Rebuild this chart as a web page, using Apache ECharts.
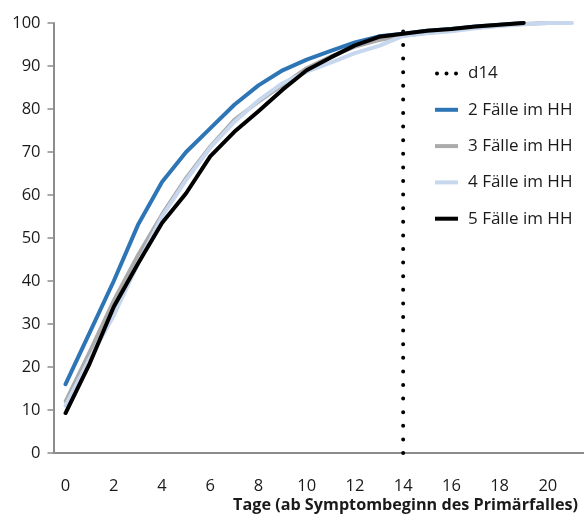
<!DOCTYPE html>
<html>
<head>
<meta charset="utf-8">
<script src="https://cdn.jsdelivr.net/npm/echarts@6/dist/echarts.min.js"></script>
<style>html,body{margin:0;padding:0;background:#fff;}#c{width:584px;height:525px;}</style>
</head>
<body>
<div id="c"></div>
<script>
var days = ['0','1','2','3','4','5','6','7','8','9','10','11','12','13','14','15','16','17','18','19','20','21'];
var yTicks = [0,10,20,30,40,50,60,70,80,90,100];
var seriesNames = ['d14','2 Fälle im HH','3 Fälle im HH','4 Fälle im HH','5 Fälle im HH'];
var markerDay = '14';
var markerRange = [0, 100];
var cases2 = [16, 28, 40, 53, 63, 70, 75.5, 81, 85.5, 89, 91.5, 93.5, 95.5, 96.9, 97.5, 98.2, 98.6, 99.2, 99.6, 100];
var cases3 = [12, 23.5, 35.5, 46, 55.5, 64, 71.3, 77.5, 81.7, 85.6, 89.5, 92.2, 94.5, 96, 97, 97.7, 98.3, 98.9, 99.4, 99.8, 100];
var cases4 = [11, 22, 32, 44, 55, 63.5, 71, 77, 82, 86, 88.7, 90.8, 93, 94.7, 97, 97.6, 98.1, 98.8, 99.3, 99.7, 100, 100];
var cases5 = [9.3, 20.8, 34, 44, 53.5, 60.4, 69, 74.7, 79.5, 84.5, 89, 92, 94.8, 96.8, 97.5, 98.2, 98.6, 99.2, 99.6, 100];

var FONT = 'Open Sans';
var LINE_ICON = 'path://M0,0h23v4h-23z';
var chart = echarts.init(document.getElementById('c'), null, {renderer: 'canvas'});
chart.setOption({
  animation: false,
  textStyle: {fontFamily: FONT},
  title: {
    text: 'Tage (ab Symptombeginn des Primärfalles)',
    right: 1, top: 492,
    textStyle: {fontFamily: FONT, fontSize: 16.2, fontWeight: 'bold', color: '#1a1a1a'}
  },
  grid: {left: 53.5, right: 0, top: 23, bottom: 72, containLabel: false},
  legend: {
    orient: 'vertical', left: 430, top: 60,
    itemWidth: 23, itemHeight: 16, itemGap: 19.3,
    textStyle: {fontFamily: FONT, fontSize: 17, color: '#1a1a1a', padding: [0,0,0,5]},
    data: [
      {name: seriesNames[0], icon: 'path://M2,7a2,2 0 1,0 4,0a2,2 0 1,0 -4,0zM11.5,7a2,2 0 1,0 4,0a2,2 0 1,0 -4,0zM21,7a2,2 0 1,0 4,0a2,2 0 1,0 -4,0z'},
      {name: seriesNames[1], icon: LINE_ICON},
      {name: seriesNames[2], icon: LINE_ICON},
      {name: seriesNames[3], icon: LINE_ICON},
      {name: seriesNames[4], icon: LINE_ICON}
    ]
  },
  xAxis: {
    type: 'category', data: days, boundaryGap: true,
    axisLine: {lineStyle: {color: '#8c8c8c', width: 2}},
    axisTick: {interval: 0, length: 6, lineStyle: {color: '#8c8c8c', width: 1.5}},
    axisLabel: {interval: 1, margin: 25, fontSize: 16.5, color: '#1a1a1a', fontFamily: FONT},
    splitLine: {show: false}
  },
  yAxis: {
    type: 'value', min: 0, max: 100, interval: 10,
    axisLine: {show: true, lineStyle: {color: '#8c8c8c', width: 2}},
    axisTick: {show: true, length: 6, lineStyle: {color: '#8c8c8c', width: 1.5}},
    axisLabel: {margin: 13, fontSize: 16.5, color: '#1a1a1a', fontFamily: FONT,
      formatter: function(v){ return yTicks.indexOf(v) >= 0 ? String(v) : ''; }},
    splitLine: {show: false}
  },
  series: [
    {name: seriesNames[0], type: 'line', symbol: 'none', color: '#000',
      data: [[markerDay, markerRange[0]], [markerDay, markerRange[1]]],
      lineStyle: {color: '#000', width: 4, type: [0, 13.6], cap: 'round'}, z: 1},
    {name: seriesNames[1], type: 'line', symbol: 'none', color: '#2e75b6', data: cases2,
      lineStyle: {width: 4, color: '#2e75b6', cap: 'round', join: 'round'}, z: 2},
    {name: seriesNames[2], type: 'line', symbol: 'none', color: '#ababab', data: cases3,
      lineStyle: {width: 3.8, color: '#ababab', cap: 'round', join: 'round'}, z: 3},
    {name: seriesNames[3], type: 'line', symbol: 'none', color: '#c6d7ee', data: cases4,
      lineStyle: {width: 4, color: '#c6d7ee', cap: 'round', join: 'round'}, z: 4},
    {name: seriesNames[4], type: 'line', symbol: 'none', color: '#000', data: cases5,
      lineStyle: {width: 4, color: '#000', cap: 'round', join: 'round'}, z: 5}
  ]
});
</script>
</body>
</html>
